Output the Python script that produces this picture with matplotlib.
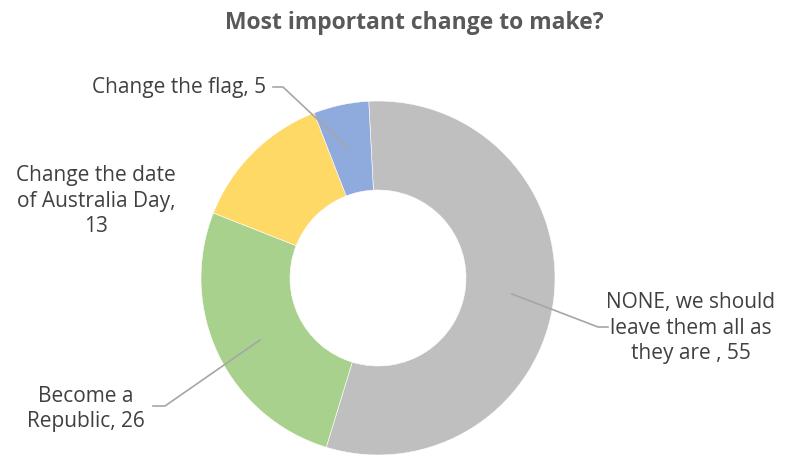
import matplotlib.pyplot as plt

# data
labels = ["NONE, we should\nleave them all as\nthey are , 55", "Become a\nRepublic, 26",
          "Change the date\nof Australia Day,\n13", "Change the flag, 5"]
values = [55, 26, 13, 5]
colors = ["#BFBFBF", "#A9D18E", "#FFD966", "#8FAADC"]

W, H = 791, 459
fig = plt.figure(figsize=(W / 100, H / 100), dpi=100)
ax = fig.add_axes([0, 0, 1, 1])
ax.set_xlim(0, W)
ax.set_ylim(0, H)
ax.set_aspect("equal")
ax.axis("off")


def Y(py):
    return H - py


cx, cy, r = 378, Y(278), 177
ax.pie(values, colors=colors, startangle=93, counterclock=False,
       center=(cx, cy), radius=r,
       wedgeprops=dict(width=89, linewidth=0.4, edgecolor="white"))
ax.set_xlim(0, W)
ax.set_ylim(0, H)

fig.text(414 / W, 1 - 23 / H, "Most important change to make?", ha="center", va="center",
         fontsize=16.5, fontweight="bold", color="#595959", family="Open Sans")

txt = dict(fontsize=15, color="#404040", family="Open Sans", linespacing=1.3,
           ha="center", va="center", multialignment="center")
lc = "#A6A6A6"

# label positions and leader lines (pixel coords)
ax.text(691, Y(328), labels[0], **txt)
ax.plot([512, 598, 608], [Y(294), Y(327), Y(327)], color=lc, lw=1.2)

ax.text(86, Y(409), labels[1], **txt)
ax.plot([153, 165, 260], [Y(406), Y(406), Y(340)], color=lc, lw=1.2)

ax.text(96, Y(201), labels[2], **txt)

ax.text(179, Y(88), labels[3], **txt)
ax.plot([273, 283, 348], [Y(87), Y(87), Y(148)], color=lc, lw=1.2)

fig.savefig("out.png", dpi=100)
